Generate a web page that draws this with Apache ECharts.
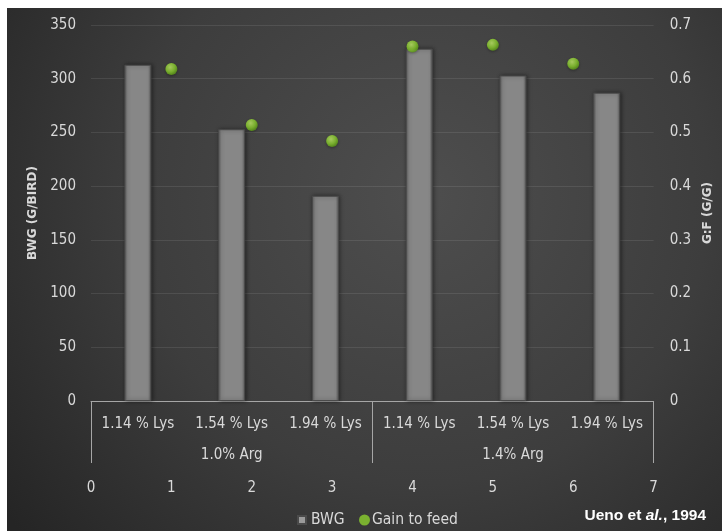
<!DOCTYPE html>
<html>
<head>
<meta charset="utf-8">
<script src="https://cdn.jsdelivr.net/npm/echarts@6/dist/echarts.min.js"></script>
<style>
  html, body { margin: 0; padding: 0; background: #ffffff; }
  #chart { width: 722px; height: 531px; }
</style>
</head>
<body>
<div id="chart"></div>
<script>
// Lysine levels within each arginine group
const lysLabels = ['1.14 % Lys', '1.54 % Lys', '1.94 % Lys', '1.14 % Lys', '1.54 % Lys', '1.94 % Lys'];
const argGroups = ['1.0% Arg', '1.4% Arg'];
// Body weight gain, g/bird
const bwgValues = [313, 253, 191, 328, 303, 287];
// Gain to feed ratio, g/g, plotted at positions 1..6
const gfPositions = [1, 2, 3, 4, 5, 6];
const gfValues = [0.618, 0.514, 0.484, 0.660, 0.663, 0.628];

const labelFont = "'Liberation Sans Narrow', 'DejaVu Sans Condensed', sans-serif";
const labelColor = '#d9d9d9';

const chart = echarts.init(document.getElementById('chart'), null, { renderer: 'canvas' });

const option = {
  backgroundColor: '#ffffff',
  animation: false,
  graphic: [
    {
      type: 'rect',
      z: -10,
      shape: { x: 7, y: 8, width: 715, height: 523 },
      style: {
        fill: {
          type: 'radial', x: 0.58, y: 0.36, r: 1.0,
          colorStops: [
            { offset: 0, color: '#4e4e4e' },
            { offset: 0.55, color: '#3d3d3d' },
            { offset: 1, color: '#252525' }
          ]
        }
      }
    },
    {
      type: 'text',
      right: 16,
      top: 508,
      style: {
        text: '{b|Ueno et }{i|al.}{b|, 1994}',
        rich: {
          b: { fontFamily: "'Liberation Sans', Arial, sans-serif", fontWeight: 'bold', fontSize: 15.5, fill: '#ffffff' },
          i: { fontFamily: "'Liberation Sans', Arial, sans-serif", fontWeight: 'bold', fontStyle: 'italic', fontSize: 15.5, fill: '#ffffff' }
        }
      }
    }
  ],
  grid: { left: 91, right: 67, top: 25, bottom: 130 },
  legend: [
    {
      left: 292,
      top: 507,
      itemWidth: 8,
      itemHeight: 8,
      textStyle: { color: labelColor, fontFamily: labelFont, fontSize: 15.5, padding: [0, 0, 0, 0] },
      data: [{ name: 'BWG', icon: 'rect', itemStyle: { color: '#9a9a9a' } }]
    },
    {
      left: 354,
      top: 507,
      itemWidth: 11,
      itemHeight: 11,
      textStyle: { color: labelColor, fontFamily: labelFont, fontSize: 15.5, padding: [0, 0, 0, -3] },
      data: [{ name: 'Gain to feed', icon: 'circle', itemStyle: { color: '#8ccf2e' } }]
    }
  ],
  xAxis: [
    {
      type: 'category',
      data: lysLabels,
      position: 'bottom',
      axisLine: { show: true, lineStyle: { color: '#a6a6a6', width: 1 } },
      axisTick: { show: false },
      axisLabel: { color: labelColor, fontFamily: labelFont, fontSize: 15, margin: 16, interval: 0 },
      splitLine: { show: false }
    },
    {
      type: 'category',
      data: argGroups,
      position: 'bottom',
      offset: 0,
      axisLine: { show: false },
      axisTick: { show: true, length: 62, lineStyle: { color: '#a6a6a6', width: 1 } },
      axisLabel: { color: labelColor, fontFamily: labelFont, fontSize: 15, margin: 47 },
      splitLine: { show: false }
    },
    {
      type: 'value',
      min: 0,
      max: 7,
      interval: 1,
      position: 'bottom',
      offset: 80,
      axisLine: { show: false },
      axisTick: { show: false },
      axisLabel: { color: labelColor, fontFamily: labelFont, fontSize: 15, margin: 0 },
      splitLine: { show: false }
    }
  ],
  yAxis: [
    {
      type: 'value',
      min: 0,
      max: 350,
      interval: 50,
      name: 'BWG (G/BIRD)',
      nameLocation: 'middle',
      nameGap: 49,
      nameRotate: 90,
      nameTextStyle: { color: labelColor, fontFamily: "'DejaVu Sans', Verdana, sans-serif", fontWeight: 'bold', fontSize: 12 },
      axisLine: { show: false },
      axisTick: { show: false },
      axisLabel: { color: labelColor, fontFamily: labelFont, fontSize: 15, margin: 15 },
      splitLine: { show: true, lineStyle: { color: 'rgba(255,255,255,0.09)', width: 1 } }
    },
    {
      type: 'value',
      min: 0,
      max: 0.7,
      interval: 0.1,
      position: 'right',
      name: 'G:F (G/G)',
      nameLocation: 'middle',
      nameGap: 48,
      nameRotate: 90,
      nameTextStyle: { color: labelColor, fontFamily: "'DejaVu Sans', Verdana, sans-serif", fontWeight: 'bold', fontSize: 12 },
      axisLine: { show: false },
      axisTick: { show: false },
      axisLabel: { color: labelColor, fontFamily: labelFont, fontSize: 15, margin: 16, formatter: v => (Math.round(v * 10) / 10).toString() },
      splitLine: { show: false }
    }
  ],
  series: [
    {
      name: 'BWG',
      type: 'bar',
      xAxisIndex: 0,
      yAxisIndex: 0,
      data: bwgValues,
      barWidth: 27,
      itemStyle: {
        color: {
          type: 'linear', x: 0, y: 0, x2: 1, y2: 0,
          colorStops: [
            { offset: 0, color: '#5e5e5e' },
            { offset: 0.12, color: '#878787' },
            { offset: 0.88, color: '#878787' },
            { offset: 1, color: '#5a5a5a' }
          ]
        },
        borderColor: '#4a4a4a',
        borderWidth: 1,
        shadowColor: 'rgba(0,0,0,0.45)',
        shadowBlur: 4,
        shadowOffsetX: 1,
        shadowOffsetY: 0
      }
    },
    {
      name: 'Gain to feed',
      type: 'scatter',
      xAxisIndex: 2,
      yAxisIndex: 1,
      symbol: 'circle',
      symbolSize: 12,
      data: gfPositions.map((p, i) => [p, gfValues[i]]),
      itemStyle: {
        color: {
          type: 'radial', x: 0.4, y: 0.35, r: 0.65,
          colorStops: [
            { offset: 0, color: '#c4ef6a' },
            { offset: 0.6, color: '#8ccf2e' },
            { offset: 1, color: '#5d9a16' }
          ]
        },
        shadowColor: 'rgba(0,0,0,0.4)',
        shadowBlur: 3,
        shadowOffsetY: 1
      }
    }
  ]
};

chart.setOption(option);
</script>
</body>
</html>
